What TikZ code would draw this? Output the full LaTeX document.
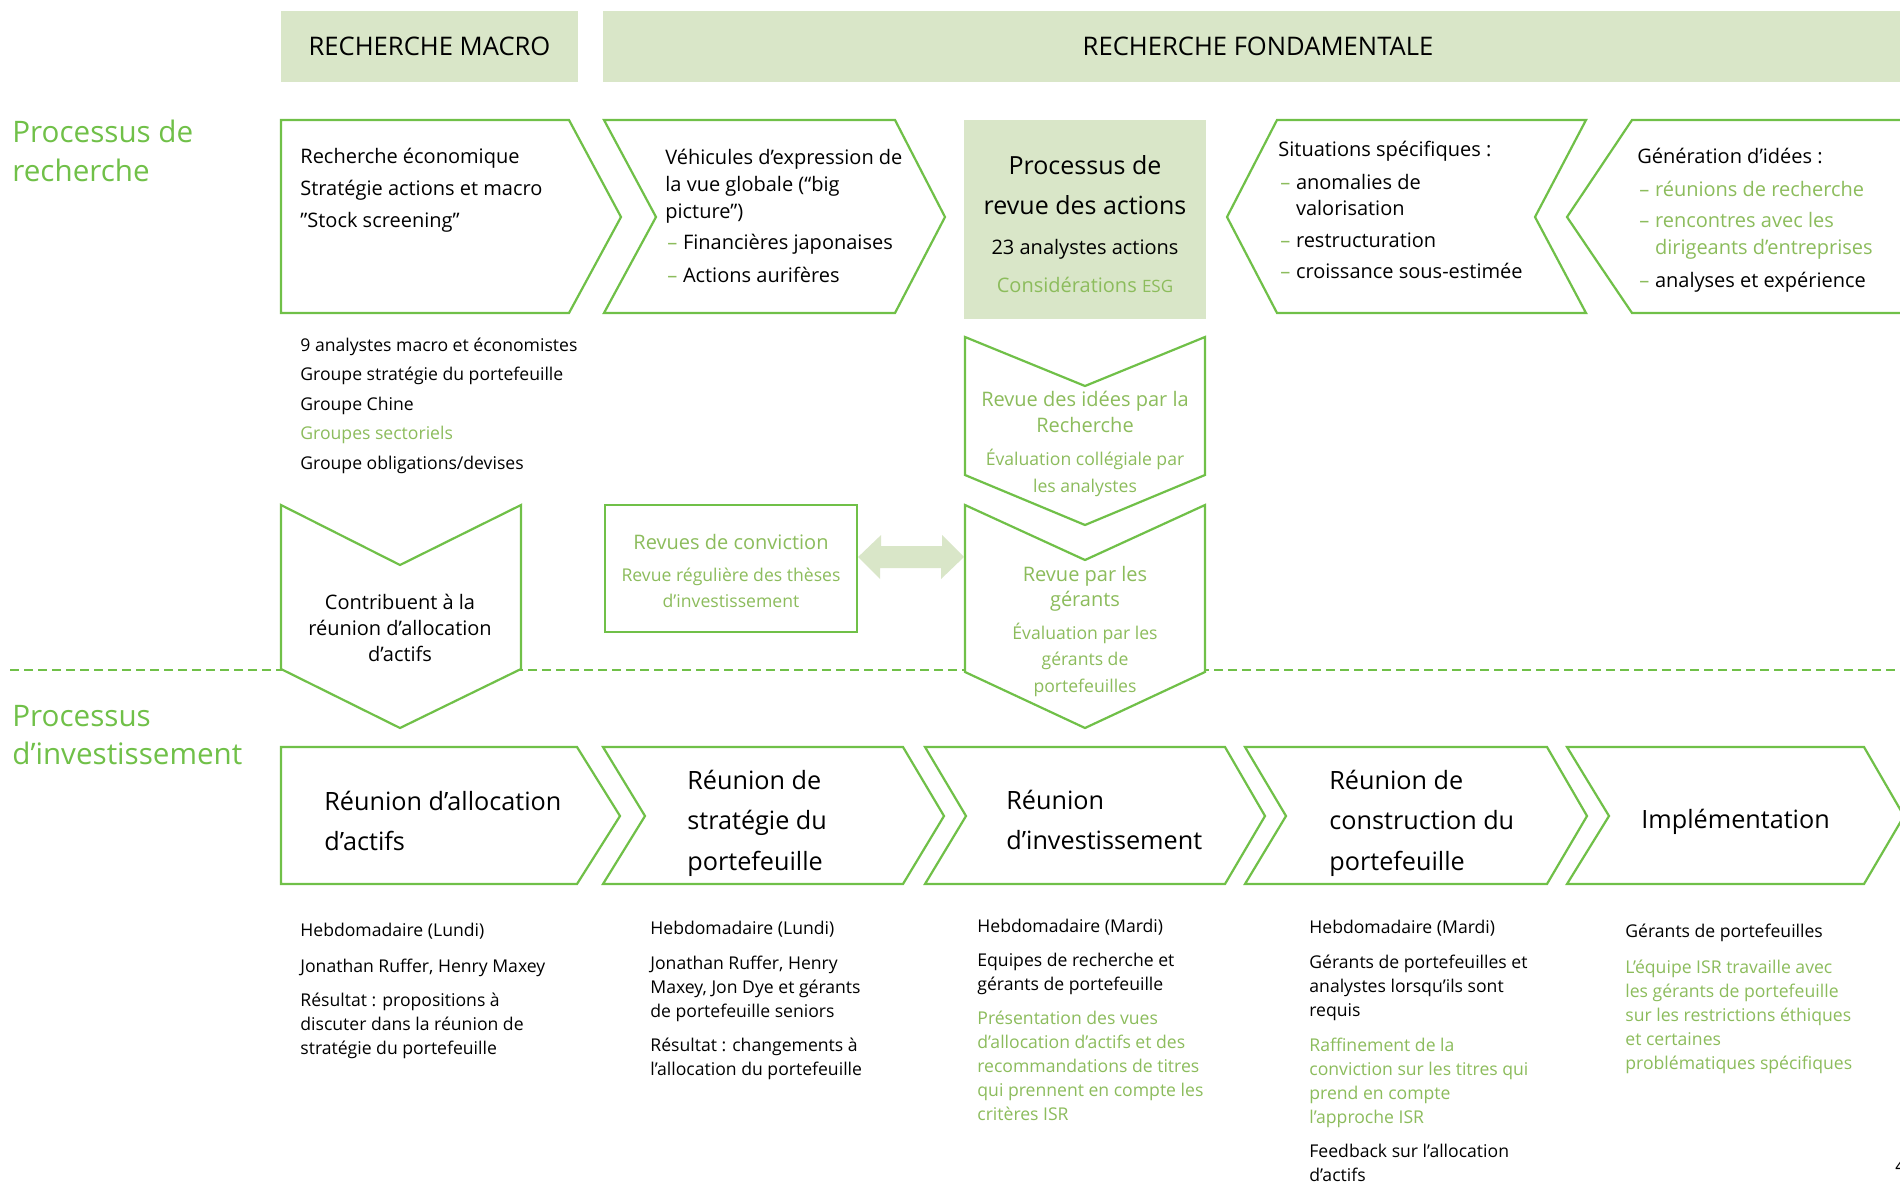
\documentclass[tikz,border=0pt]{standalone}
\usepackage{fontspec}
\setmainfont{Open Sans}
\usetikzlibrary{arrows.meta}
\definecolor{rfline}{RGB}{112,192,72}
\definecolor{rftext}{RGB}{140,188,92}
\definecolor{rfpale}{RGB}{217,230,200}
\newcommand{\rfdash}{\makebox[8.8pt][l]{\hspace{1pt}\textcolor{rftext}{–}}}
\tikzset{
  chev/.style={draw=rfline, fill=white, line width=1.1pt},
  hblk/.style={rectangle, fill=rfpale, inner sep=0pt, font=\fontsize{12.8}{15}\selectfont},
  plbl/.style={anchor=north west, inner sep=0pt, align=left, text=rfline, yshift=-0.75pt, font=\fontsize{14.8}{19.5}\selectfont},
  btxt/.style={anchor=north west, inner sep=0pt, align=left, yshift=-0.75pt, font=\fontsize{10}{16}\selectfont},
  ctxt/.style={anchor=north, inner sep=0pt, align=center, yshift=-0.75pt, font=\fontsize{10}{13}\selectfont},
  stxt/.style={anchor=north west, inner sep=0pt, align=left, yshift=-0.6pt, font=\fontsize{8.8}{12}\selectfont},
  mtxt/.style={anchor=north west, inner sep=0pt, align=left, yshift=-0.75pt, font=\fontsize{12.6}{20.3}\selectfont},
  dblarr/.style={fill=rfpale, draw=none},
  sepline/.style={rfline, line width=1pt, dash pattern=on 4.5pt off 2.5pt},
}
\begin{document}
\begin{tikzpicture}[x=0.5pt,y=-0.5pt]
\useasboundingbox[fill=white] (0,0) rectangle (1900,1182);

\node[hblk, minimum width=148.5pt, minimum height=35.5pt] (macro) at (429.5,46.5) {\raisebox{-1.2pt}{RECHERCHE MACRO}};
\node[hblk, minimum width=655pt, minimum height=35.5pt] (fonda) at (1258,46.5) {\raisebox{-1.2pt}{RECHERCHE FONDAMENTALE}};

\node[plbl] (precherche) at (12,118) {Processus de\\recherche};
\node[plbl, font=\fontsize{14.8}{19}\selectfont] (pinvest) at (12,703) {Processus\\d’investissement};

\draw[sepline] (10,669.5) -- (1900,669.5);

\draw[chev] (281,120) -- (569,120) -- (621,217) -- (569,313) -- (281,313) -- cycle;
\draw[chev] (604,120) -- (895,120) -- (945,217) -- (895,313) -- (604,313) -- (656,217) -- cycle;
\node[fill=rfpale, minimum width=121pt, minimum height=99.5pt, inner sep=0pt] (revue) at (1085,219.5) {};
\draw[chev] (1277,120) -- (1586,120) -- (1535,217) -- (1586,313) -- (1277,313) -- (1227,217) -- cycle;
\draw[chev] (1920,120) -- (1632,120) -- (1567,217) -- (1632,313) -- (1920,313);

\node[btxt] (eco) at (300,146) {Recherche économique\\Stratégie actions et macro\\”Stock screening”};
\node[btxt, font=\fontsize{10}{13.5}\selectfont] (vehic) at (665,147) {Véhicules d’expression de\\la vue globale (“big\\picture”)\\[2pt]\rfdash Financières japonaises\\[3pt]\rfdash Actions aurifères};
\node[ctxt, font=\fontsize{12.5}{20}\selectfont] (rvtitle) at (1085,154) {Processus de\\revue des actions};
\node[ctxt] (rvnb) at (1085,237) {23 analystes actions};
\node[ctxt, text=rftext] (rvesg) at (1085,275) {Considérations {\fontsize{8.5}{10}\selectfont ESG}};
\node[btxt, font=\fontsize{10}{13}\selectfont] (situ) at (1278,139) {Situations spécifiques :\\[3.5pt]\rfdash anomalies de\\\hspace*{8.8pt}valorisation\\[3pt]\rfdash restructuration\\[2.5pt]\rfdash croissance sous-estimée};
\node[btxt, font=\fontsize{10}{13.5}\selectfont] (idees) at (1637,146) {Génération d’idées :\\[3pt]\rfdash\textcolor{rftext}{réunions de recherche}\\[2pt]\rfdash\textcolor{rftext}{rencontres avec les}\\\hspace*{8.8pt}\textcolor{rftext}{dirigeants d’entreprises}\\[3pt]\rfdash analyses et expérience};

\node[stxt, font=\fontsize{8.8}{14.75}\selectfont] (equipes) at (300,336) {9 analystes macro et économistes\\Groupe stratégie du portefeuille\\Groupe Chine\\\textcolor{rftext}{Groupes sectoriels}\\Groupe obligations/devises};

\draw[chev] (281,505) -- (400,565) -- (521,505) -- (521,669) -- (400,728) -- (281,669) -- cycle;
\node[ctxt] (contrib) at (400,592) {Contribuent à la\\réunion d’allocation\\d’actifs};

\node[draw=rfline, line width=1.1pt, minimum width=126pt, minimum height=63.5pt, inner sep=0pt] (conv) at (731,568.5) {};
\node[ctxt, text=rftext] (convtitle) at (731,532) {Revues de conviction};
\node[ctxt, text=rftext, font=\fontsize{8.8}{13}\selectfont] (convsub) at (731,566) {Revue régulière des thèses\\d’investissement};

\draw[chev] (965,337) -- (1085,386) -- (1205,337) -- (1205,475) -- (1085,525) -- (965,475) -- cycle;
\node[ctxt, text=rftext] (idtitle) at (1085,389) {Revue des idées par la\\Recherche};
\node[ctxt, text=rftext, font=\fontsize{8.8}{13.5}\selectfont] (idsub) at (1085,447) {Évaluation collégiale par\\les analystes};

\draw[chev] (965,505) -- (1085,560) -- (1205,505) -- (1205,672) -- (1085,728) -- (965,672) -- cycle;
\node[ctxt, text=rftext, font=\fontsize{10}{12.5}\selectfont] (gertitle) at (1085,564) {Revue par les\\gérants};
\node[ctxt, text=rftext, font=\fontsize{8.8}{13.3}\selectfont] (gersub) at (1085,621) {Évaluation par les\\gérants de\\portefeuilles};

\coordinate (gerants) at (964,557);
\fill[dblarr] (gerants -| conv.east) -- ++(23,-22) -- ++(0,11) -- ++(61,0) -- ++(0,-11) -- (gerants) -- ++(-23,22) -- ++(0,-11) -- ++(-61,0) -- ++(0,11) -- cycle;

\draw[chev] (281,747) -- (577,747) -- (620,816) -- (577,884) -- (281,884) -- cycle;
\draw[chev] (603,747) -- (903,747) -- (944,816) -- (903,884) -- (603,884) -- (645,816) -- cycle;
\draw[chev] (925,747) -- (1225,747) -- (1265,816) -- (1225,884) -- (925,884) -- (966,816) -- cycle;
\draw[chev] (1245,747) -- (1547,747) -- (1587,816) -- (1547,884) -- (1245,884) -- (1286,816) -- cycle;
\draw[chev] (1567,747) -- (1864,747) -- (1904,816) -- (1864,884) -- (1567,884) -- (1609,816) -- cycle;

\node[mtxt] (allocation) at (324,789) {Réunion d’allocation\\d’actifs};
\node[mtxt] (strategie) at (687,768) {Réunion de\\stratégie du\\portefeuille};
\node[mtxt] (investissement) at (1006,788) {Réunion\\d’investissement};
\node[mtxt] (construction) at (1329,768) {Réunion de\\construction du\\portefeuille};
\node[mtxt] (implementation) at (1641,807) {Implémentation};

\node[stxt] (hebdo1) at (300,922) {Hebdomadaire (Lundi)\\[6pt]Jonathan Ruffer, Henry Maxey\\[5pt]Résultat : propositions à\\discuter dans la réunion de\\stratégie du portefeuille};
\node[stxt] (hebdo2) at (650,920) {Hebdomadaire (Lundi)\\[5.5pt]Jonathan Ruffer, Henry\\Maxey, Jon Dye et gérants\\de portefeuille seniors\\[5pt]Résultat : changements à\\l’allocation du portefeuille};
\node[stxt] (hebdo3) at (977,918) {Hebdomadaire (Mardi)\\[5pt]Equipes de recherche et\\gérants de portefeuille\\[5pt]\textcolor{rftext}{Présentation des vues}\\\textcolor{rftext}{d’allocation d’actifs et des}\\\textcolor{rftext}{recommandations de titres}\\\textcolor{rftext}{qui prennent en compte les}\\\textcolor{rftext}{critères ISR}};
\node[stxt] (hebdo4) at (1309,919) {Hebdomadaire (Mardi)\\[5.5pt]Gérants de portefeuilles et\\analystes lorsqu’ils sont\\requis\\[5.5pt]\textcolor{rftext}{Raffinement de la}\\\textcolor{rftext}{conviction sur les titres qui}\\\textcolor{rftext}{prend en compte}\\\textcolor{rftext}{l’approche ISR}\\[5pt]Feedback sur l’allocation\\d’actifs};
\node[stxt] (gerants5) at (1625,922) {Gérants de portefeuilles\\[6pt]\textcolor{rftext}{L’équipe ISR travaille avec}\\\textcolor{rftext}{les gérants de portefeuille}\\\textcolor{rftext}{sur les restrictions éthiques}\\\textcolor{rftext}{et certaines}\\\textcolor{rftext}{problématiques spécifiques}};

\node[anchor=base west, inner sep=0pt, font=\fontsize{8.8}{12}\selectfont] (page) at (1895,1172) {4};
\end{tikzpicture}
\end{document}
